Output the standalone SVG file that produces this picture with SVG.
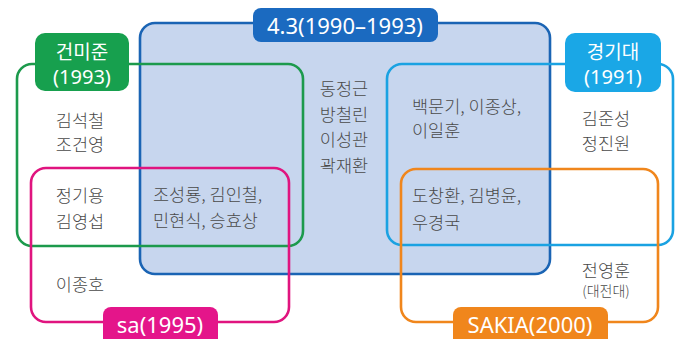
<svg xmlns="http://www.w3.org/2000/svg" width="678" height="339" viewBox="0 0 678 339">
<style>
.box{fill:none;stroke-width:2.6}
.t{font-family:"Noto Sans CJK KR","Noto Sans",sans-serif;font-size:17.5px;font-weight:300;fill:#4a4a4a;dominant-baseline:central}
.lb{font-family:"Noto Sans","Noto Sans CJK KR",sans-serif;font-size:22px;fill:#fff;text-anchor:middle;dominant-baseline:central}
.lk{font-family:"Noto Sans CJK KR","Noto Sans",sans-serif;font-size:19px;fill:#fff;text-anchor:middle;dominant-baseline:central}
.c{text-anchor:middle}
</style>
<rect width="678" height="339" fill="#fff"/>
<g id="connectors"></g>
<g id="g43-box"><rect x="140" y="23" width="410" height="251" rx="15" fill="#c7d6ee" stroke="#1a64b4" stroke-width="2.6"/></g>
<g id="gmj-box"><rect class="box" x="17" y="64" width="286" height="182" rx="15" stroke="#1c9a4c"/></g>
<g id="sa-box"><rect class="box" x="31" y="168" width="258" height="154" rx="15" stroke="#e0147f"/></g>
<g id="kgd-box"><rect class="box" x="387" y="64" width="286" height="181" rx="15" stroke="#1aa2e2"/></g>
<g id="sakia-box"><rect class="box" x="401" y="169" width="257" height="153" rx="15" stroke="#f0861c"/></g>
<g id="g43-label"><rect x="253" y="8" width="185" height="34" rx="8" fill="#1b6ac0"/><text class="lb" x="345" y="25">4.3(1990–1993)</text></g>
<g id="gmj-label"><rect x="35" y="33" width="94" height="58" rx="10" fill="#17a04e"/><text class="lk" x="82" y="50">건미준</text><text class="lb" x="82" y="76" style="font-size:20px">(1993)</text></g>
<g id="kgd-label"><rect x="565" y="33" width="96" height="59" rx="10" fill="#1aa7e6"/><text class="lk" x="613" y="50">경기대</text><text class="lb" x="613" y="76" style="font-size:20px">(1991)</text></g>
<g id="sa-label"><rect x="103" y="307" width="115" height="40" rx="8" fill="#e4158a"/><text class="lb" x="160" y="324">sa(1995)</text></g>
<g id="sakia-label"><rect x="453" y="307" width="155" height="40" rx="8" fill="#f0861c"/><text class="lb" x="530" y="324">SAKIA(2000)</text></g>
<g id="names">
<text class="t c" x="80" y="119">김석철</text>
<text class="t c" x="80" y="143">조건영</text>
<text class="t c" x="80" y="194">정기용</text>
<text class="t c" x="80" y="220">김영섭</text>
<text class="t c" x="80" y="283">이종호</text>
<text class="t" x="153" y="193">조성룡, 김인철,</text>
<text class="t" x="153" y="219">민현식, 승효상</text>
<text class="t c" x="344" y="87">동정근</text>
<text class="t c" x="344" y="113">방철린</text>
<text class="t c" x="344" y="138">이성관</text>
<text class="t c" x="344" y="164">곽재환</text>
<text class="t" x="412" y="105">백문기, 이종상,</text>
<text class="t" x="412" y="129">이일훈</text>
<text class="t c" x="606" y="117">김준성</text>
<text class="t c" x="606" y="142">정진원</text>
<text class="t" x="412" y="194">도창환, 김병윤,</text>
<text class="t" x="412" y="221">우경국</text>
<text class="t c" x="606" y="269">전영훈</text>
<text class="t c" x="606" y="290" style="font-size:14px">(대전대)</text>
</g>
</svg>
